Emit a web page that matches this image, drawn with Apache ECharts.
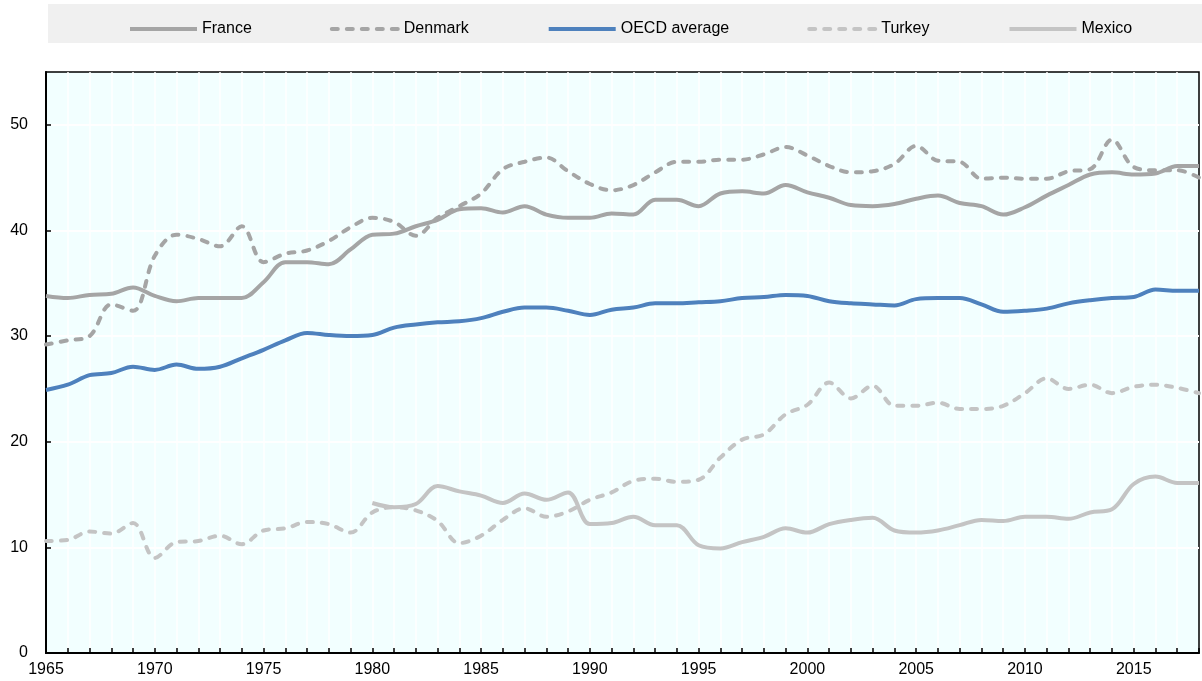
<!DOCTYPE html>
<html>
<head>
<meta charset="utf-8">
<script src="https://cdn.jsdelivr.net/npm/echarts@6/dist/echarts.min.js"></script>
<style>
  html, body { margin: 0; padding: 0; background: #fff; }
  #chart { width: 1202px; height: 681px; }
</style>
</head>
<body>
<div id="chart"></div>
<script>
var years = [];
for (var y = 1965; y <= 2018; y++) years.push(y);

var france = [33.8, 33.6, 33.9, 34.0, 34.6, 33.8, 33.3, 33.6, 33.6, 33.6,
  35.1, 37.0, 37.0, 36.8, 38.2, 39.6, 39.7, 40.4, 41.0, 42.0,
  42.1, 41.7, 42.3, 41.5, 41.2, 41.2, 41.6, 41.5, 42.9, 42.9,
  42.3, 43.5, 43.7, 43.5, 44.3, 43.6, 43.1, 42.4, 42.3, 42.5,
  43.0, 43.3, 42.6, 42.3, 41.5, 42.2, 43.3, 44.3, 45.3, 45.5,
  45.3, 45.4, 46.1, 46.1];
var denmark = [29.2, 29.6, 30.0, 33.0, 32.4, 37.6, 39.6, 39.2, 38.5, 40.4,
  37.0, 37.8, 38.1, 39.0, 40.3, 41.2, 40.8, 39.5, 41.2, 42.3,
  43.5, 45.8, 46.5, 46.9, 45.6, 44.4, 43.8, 44.3, 45.5, 46.5,
  46.5, 46.7, 46.7, 47.2, 47.9, 47.1, 46.1, 45.5, 45.6, 46.3,
  48.0, 46.6, 46.5, 44.9, 45.0, 44.9, 44.9, 45.6, 45.8, 48.6,
  46.0, 45.7, 45.7, 45.0];
var oecd = [24.9, 25.4, 26.3, 26.5, 27.1, 26.8, 27.3, 26.9, 27.1, 27.9,
  28.7, 29.6, 30.3, 30.1, 30.0, 30.1, 30.8, 31.1, 31.3, 31.4,
  31.7, 32.3, 32.7, 32.7, 32.4, 32.0, 32.5, 32.7, 33.1, 33.1,
  33.2, 33.3, 33.6, 33.7, 33.9, 33.8, 33.3, 33.1, 33.0, 32.9,
  33.5, 33.6, 33.6, 33.0, 32.3, 32.4, 32.6, 33.1, 33.4, 33.6,
  33.7, 34.4, 34.3, 34.3];
var turkey = [10.6, 10.7, 11.5, 11.3, 12.3, 9.0, 10.5, 10.6, 11.1, 10.3,
  11.6, 11.8, 12.4, 12.2, 11.4, 13.3, 13.8, 13.5, 12.5, 10.4,
  11.1, 12.6, 13.7, 12.9, 13.4, 14.5, 15.2, 16.3, 16.5, 16.2,
  16.4, 18.5, 20.2, 20.7, 22.6, 23.5, 25.6, 24.1, 25.3, 23.4,
  23.4, 23.7, 23.1, 23.1, 23.4, 24.6, 26.0, 25.0, 25.4, 24.6,
  25.2, 25.4, 25.1, 24.6];
var mexico = [null, null, null, null, null, null, null, null, null, null,
  null, null, null, null, null, 14.2, 13.8, 14.1, 15.8, 15.3,
  14.9, 14.2, 15.1, 14.5, 15.2, 12.2, 12.3, 12.9, 12.1, 12.1,
  10.2, 9.9, 10.5, 11.0, 11.8, 11.4, 12.2, 12.6, 12.8, 11.6,
  11.4, 11.6, 12.1, 12.6, 12.5, 12.9, 12.9, 12.7, 13.3, 13.6,
  16.0, 16.7, 16.1, 16.1];

var FONT = "'Liberation Sans', Arial, sans-serif";

function pairs(vals) {
  return years.map(function (yr, i) { return [yr, vals[i]]; });
}

function line(name, vals, color, dashed) {
  return {
    name: name,
    type: 'line',
    data: pairs(vals),
    smooth: 0.35,
    symbol: 'none',
    connectNulls: false,
    lineStyle: {
      color: color,
      width: 4,
      type: dashed ? [6, 9] : 'solid',
      cap: dashed ? 'round' : 'butt'
    },
    itemStyle: { color: color }
  };
}

var myChart = echarts.init(document.getElementById('chart'));

myChart.setOption({
  animation: false,
  textStyle: { fontFamily: FONT },
  graphic: [{
    type: 'rect',
    shape: { x: 48, y: 4, width: 1154, height: 39 },
    style: { fill: '#f0f0f0' },
    z: -1
  }],
  legend: {
    left: 123,
    top: 16,
    itemWidth: 67,
    itemHeight: 14,
    itemGap: 78,
    itemStyle: { opacity: 0 },
    lineStyle: { width: 4 },
    textStyle: { fontSize: 16, color: '#000', fontFamily: FONT },
    data: ['France', 'Denmark', 'OECD average', 'Turkey', 'Mexico']
  },
  grid: {
    left: 46, right: 1, top: 72, bottom: 28,
    show: true,
    backgroundColor: '#f2ffff',
    borderColor: '#000',
    borderWidth: 1.5
  },
  xAxis: {
    type: 'value',
    min: 1965,
    max: 2018,
    interval: 1,
    axisLine: { show: true, lineStyle: { color: '#000', width: 2 } },
    axisTick: { show: true, inside: true, length: 5, lineStyle: { color: '#000', width: 1.5 } },
    splitLine: { show: true, showMaxLine: false, lineStyle: { color: '#ffffff', width: 1.5 } },
    axisLabel: {
      fontSize: 16, color: '#000', margin: 9, fontFamily: FONT,
      formatter: function (v) { return v % 5 === 0 ? String(v) : ''; }
    }
  },
  yAxis: {
    type: 'value',
    min: 0,
    max: 55,
    interval: 10,
    axisLine: { show: true, lineStyle: { color: '#000', width: 2 } },
    axisTick: { show: true, inside: true, length: 5, lineStyle: { color: '#000', width: 1.5 } },
    splitLine: { show: true, showMaxLine: false, lineStyle: { color: '#ffffff', width: 2 } },
    axisLabel: { fontSize: 16, color: '#000', margin: 18, showMaxLabel: false, fontFamily: FONT }
  },
  series: [
    line('France', france, '#a5a5a5', false),
    line('Denmark', denmark, '#a5a5a5', true),
    line('OECD average', oecd, '#4e81bd', false),
    line('Turkey', turkey, '#c4c4c4', true),
    line('Mexico', mexico, '#c4c4c4', false)
  ]
});
</script>
</body>
</html>
